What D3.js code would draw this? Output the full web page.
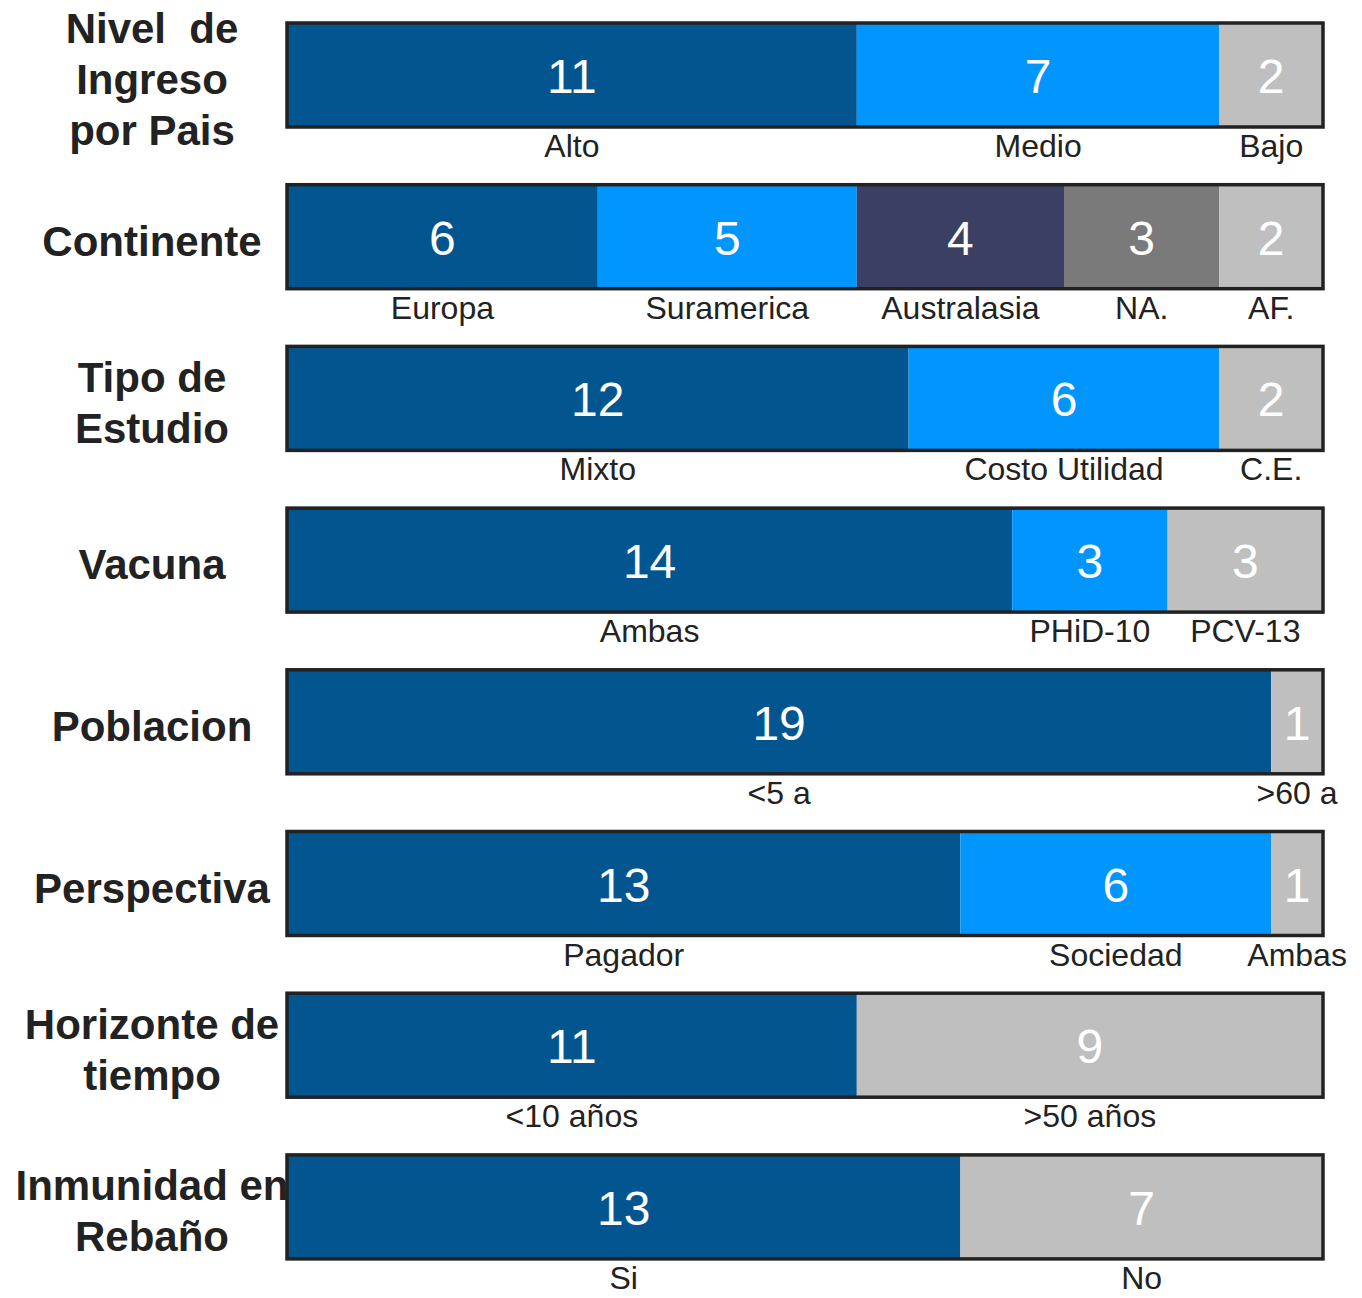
<!DOCTYPE html>
<html lang="es">
<head>
    <meta charset="UTF-8">
    <title>Características de los estudios</title>
    <style>
        body { margin: 0; background: #fff; }
        svg text { font-family: "Liberation Sans", Arial, sans-serif; }
    </style>
</head>
<body>
    <div id="chart"></div>
    <script src="https://d3js.org/d3.v7.min.js"></script>
    <script>
        // data, every row adds up to 20 studies
        const rowTitles = [
            ["Nivel\u00a0\u00a0de", "Ingreso", "por Pais"],
            ["Continente"],
            ["Tipo de", "Estudio"],
            ["Vacuna"],
            ["Poblacion"],
            ["Perspectiva"],
            ["Horizonte de", "tiempo"],
            ["Inmunidad en", "Rebaño"]
        ];
        const rowValues = [
            [11, 7, 2],
            [6, 5, 4, 3, 2],
            [12, 6, 2],
            [14, 3, 3],
            [19, 1],
            [13, 6, 1],
            [11, 9],
            [13, 7]
        ];
        const rowLabels = [
            ["Alto", "Medio", "Bajo"],
            ["Europa", "Suramerica", "Australasia", "NA.", "AF."],
            ["Mixto", "Costo Utilidad", "C.E."],
            ["Ambas", "PHiD-10", "PCV-13"],
            ["<5 a", ">60 a"],
            ["Pagador", "Sociedad", "Ambas"],
            ["<10 años", ">50 años"],
            ["Si", "No"]
        ];
        const total = 20;

        const palette  = ["#02558f", "#0096fe", "#3a3f63", "#7a7a7a"];
        const lastGray = "#bfbfbf";
        const ink      = "#222";

        const width  = 1362;
        const height = 1298;
        const barH   = 104;
        const step   = 161.7;
        const top0   = 23;

        const x = d3.scaleLinear().domain([0, total]).range([287, 1323]);
        const y = d3.scaleBand()
            .domain(d3.range(rowValues.length))
            .range([top0, top0 + step * (rowValues.length - 1) + barH])
            .paddingInner((step - barH) / step);

        const svg = d3.select("#chart").append("svg")
            .attr("width", width).attr("height", height);

        const rows = svg.selectAll("g.row")
            .data(rowValues.map((vals, i) => {
                let acc = 0;
                const segs = vals.map((v, j) => {
                    const s = { v, x0: acc, x1: acc + v, label: rowLabels[i][j],
                        color: j === vals.length - 1 ? lastGray : palette[j] };
                    acc += v;
                    return s;
                });
                return { i, segs, title: rowTitles[i] };
            }))
            .enter().append("g")
            .attr("class", "row")
            .attr("transform", d => `translate(0,${y(d.i)})`);

        rows.selectAll("rect.seg")
            .data(d => d.segs)
            .enter().append("rect")
            .attr("class", "seg")
            .attr("x", d => x(d.x0))
            .attr("width", d => x(d.x1) - x(d.x0))
            .attr("y", 0)
            .attr("height", barH)
            .attr("fill", d => d.color);

        rows.append("rect")
            .attr("x", x(0)).attr("y", 0)
            .attr("width", x(total) - x(0)).attr("height", barH)
            .attr("fill", "none")
            .attr("stroke", ink)
            .attr("stroke-width", 3.5);

        rows.selectAll("text.val")
            .data(d => d.segs)
            .enter().append("text")
            .attr("class", "val")
            .attr("x", d => (x(d.x0) + x(d.x1)) / 2)
            .attr("y", barH / 2 + 18)
            .attr("text-anchor", "middle")
            .attr("font-size", 48)
            .attr("fill", "#fff")
            .text(d => d.v);

        rows.selectAll("text.cat")
            .data(d => d.segs)
            .enter().append("text")
            .attr("class", "cat")
            .attr("x", d => (x(d.x0) + x(d.x1)) / 2)
            .attr("y", barH + 30)
            .attr("text-anchor", "middle")
            .attr("font-size", 32)
            .attr("fill", ink)
            .text(d => d.label);

        const lineH = 51;
        rows.each(function(d) {
            const n = d.title.length;
            const t = d3.select(this).append("text")
                .attr("text-anchor", "middle")
                .attr("font-size", 42)
                .attr("font-weight", "bold")
                .attr("fill", ink);
            d.title.forEach((line, k) => {
                t.append("tspan")
                    .attr("x", 152)
                    .attr("y", barH / 2 + 19 + (k - (n - 1) / 2) * lineH)
                    .text(line);
            });
        });
    </script>
</body>
</html>
